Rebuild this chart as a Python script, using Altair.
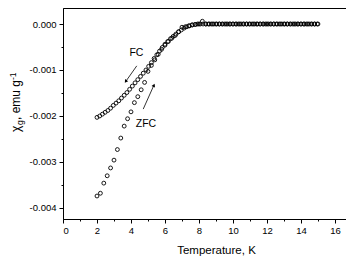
import altair as alt
import pandas as pd

# ---- data (chi in units of 1e-3 emu/g) ----
zfc_T = [2.0, 2.2, 2.4, 2.6, 2.8, 3.0, 3.2, 3.4, 3.6, 3.8,
         4.0, 4.2, 4.4, 4.6, 4.8, 5.0, 5.2, 5.4, 5.6, 5.8,
         6.0, 6.2, 6.4, 6.6, 6.8, 7.0, 7.2, 7.4, 7.6, 7.8,
         8.0, 8.2, 8.4, 8.6, 8.8, 9.0, 9.2, 9.4, 9.6, 9.8,
         10.0, 10.2, 10.4, 10.6, 10.8, 11.0, 11.2, 11.4, 11.6, 11.8,
         12.0, 12.2, 12.4, 12.6, 12.8, 13.0, 13.2, 13.4, 13.6, 13.8,
         14.0, 14.2, 14.4, 14.6, 14.8, 15.0]
zfc_chi = [-3.74, -3.68, -3.46, -3.30, -3.13, -2.96, -2.73, -2.48, -2.22, -2.06,
           -1.91, -1.71, -1.58, -1.43, -1.27, -1.03, -0.90, -0.78, -0.66, -0.55,
           -0.46, -0.38, -0.31, -0.25, -0.17, -0.07, -0.06, -0.04, -0.02, -0.01,
           0.00, 0.06, 0.00, 0.00, 0.00, 0.00, 0.00, 0.00, 0.00, 0.00,
           0.00, 0.00, 0.00, 0.00, 0.00, 0.00, 0.00, 0.00, 0.00, 0.00,
           0.00, 0.00, 0.00, 0.00, 0.00, 0.00, 0.00, 0.00, 0.00, 0.00,
           0.00, 0.00, 0.00, 0.00, 0.00, 0.00]

fc_T = [2.00, 2.16, 2.32, 2.48, 2.64, 2.80, 2.96, 3.12, 3.28, 3.44,
        3.60, 3.76, 3.92, 4.08, 4.24, 4.40, 4.56, 4.72, 4.88, 5.04,
        5.20, 5.36, 5.52, 5.68, 5.84, 6.00, 6.16, 6.32, 6.48, 6.64,
        6.80, 6.96, 7.12, 7.28, 7.44, 7.60, 7.76, 7.92, 8.08, 8.24,
        8.40, 8.56, 8.72, 8.88, 9.04, 9.20, 9.36, 9.52, 9.68, 9.84,
        10.00, 10.16, 10.32, 10.48, 10.64, 10.80, 10.96, 11.12, 11.28, 11.44,
        11.60, 11.76, 11.92, 12.08, 12.24, 12.40, 12.56, 12.72, 12.88, 13.04,
        13.20, 13.36, 13.52, 13.68, 13.84, 14.00, 14.16, 14.32, 14.48, 14.64,
        14.80, 14.96]
fc_chi = [-2.03, -2.00, -1.96, -1.92, -1.88, -1.83, -1.77, -1.72, -1.67, -1.61,
          -1.55, -1.49, -1.42, -1.35, -1.28, -1.21, -1.14, -1.07, -1.00, -0.92,
          -0.84, -0.75, -0.67, -0.59, -0.51, -0.44, -0.38, -0.32, -0.27, -0.22,
          -0.17, -0.13, -0.09, -0.06, -0.04, -0.02, -0.01, 0.00, 0.00, 0.00,
          0.00, 0.00, 0.00, 0.00, 0.00, 0.00, 0.00, 0.00, 0.00, 0.00,
          0.00, 0.00, 0.00, 0.00, 0.00, 0.00, 0.00, 0.00, 0.00, 0.00,
          0.00, 0.00, 0.00, 0.00, 0.00, 0.00, 0.00, 0.00, 0.00, 0.00,
          0.00, 0.00, 0.00, 0.00, 0.00, 0.00, 0.00, 0.00, 0.00, 0.00,
          0.00, 0.00]

# annotations (data coordinates)
label_text = ["FC", "ZFC"]
label_T = [4.32, 4.88]
label_chi = [-0.62, -2.17]

arrow_tail_T = [4.34, 4.72]
arrow_tail_chi = [-0.91, -1.85]
arrow_head_T = [3.69, 5.35]
arrow_head_chi = [-1.25, -1.33]

x_ticks = list(range(0, 17))
y_ticks = [0.0, -0.0005, -0.001, -0.0015, -0.002, -0.0025, -0.003, -0.0035, -0.004]

# ---- tables ----
df_zfc = pd.DataFrame({"T": zfc_T, "v": [c * 1e-3 for c in zfc_chi]})
df_fc = pd.DataFrame({"T": fc_T, "v": [c * 1e-3 for c in fc_chi]})
df_lab = pd.DataFrame({"T": label_T, "v": [c * 1e-3 for c in label_chi], "label": label_text})
df_arr = pd.DataFrame({"T": arrow_tail_T, "v": [c * 1e-3 for c in arrow_tail_chi],
                       "T2": arrow_head_T, "v2": [c * 1e-3 for c in arrow_head_chi]})
df_head_fc = pd.DataFrame({"T": [arrow_head_T[0]], "v": [arrow_head_chi[0] * 1e-3]})
df_head_zfc = pd.DataFrame({"T": [arrow_head_T[1]], "v": [arrow_head_chi[1] * 1e-3]})

FONT = "Liberation Sans"

x_axis = alt.Axis(
    values=x_ticks,
    labelExpr="datum.value % 2 == 1 ? '' : format(datum.value, 'd')",
    tickSize={"condition": {"test": "datum.value % 2 == 1", "value": 2}, "value": 4},
    labelPadding=2,
    labelFontSize=9.5,
    title="Temperature, K",
    titleFontSize=11.5,
    titleFontWeight="normal",
    titleX=153,
    titleY=34,
    titleBaseline="alphabetic",
    grid=False,
)
y_axis = alt.Axis(
    values=y_ticks,
    labelExpr="abs(round(datum.value * 2000)) % 2 == 1 ? '' : replace(format(datum.value, '.3f'), '\u2212', '-')",
    tickSize={"condition": {"test": "abs(round(datum.value * 2000)) % 2 == 1", "value": 2}, "value": 4},
    labelPadding=3,
    labelFontSize=9.5,
    title=None,
    grid=False,
)

X = alt.X("T:Q", scale=alt.Scale(domain=[0, 16.65], nice=False, zero=False), axis=x_axis)
Y = alt.Y("v:Q", scale=alt.Scale(domain=[-0.00424, 0.000348], nice=False, zero=False), axis=y_axis)

pts_style = dict(shape="circle", filled=False, color="black", size=15, strokeWidth=0.9, opacity=1)

zfc = alt.Chart(df_zfc).mark_point(**pts_style).encode(x=X, y=Y)
fc = alt.Chart(df_fc).mark_point(**pts_style).encode(x=X, y=Y)

arrows = alt.Chart(df_arr).mark_rule(color="black", strokeWidth=0.8).encode(
    x=X, y=Y, x2="T2:Q", y2="v2:Q")
head_fc = alt.Chart(df_head_fc).mark_point(shape="triangle-up", filled=True, color="black",
                                           size=14, angle=214, opacity=1).encode(x=X, y=Y)
head_zfc = alt.Chart(df_head_zfc).mark_point(shape="triangle-up", filled=True, color="black",
                                             size=14, angle=24, opacity=1).encode(x=X, y=Y)
labels = alt.Chart(df_lab).mark_text(font=FONT, fontSize=10.5, color="black").encode(
    x=X, y=Y, text="label:N")

# y-axis title built from pieces (subscript g, superscript -1)
one = pd.DataFrame({"k": [0]})
tx = -43
t1 = alt.Chart(one).mark_text(text="\u03c7", font=FONT, fontSize=12, angle=270, align="left",
                              baseline="alphabetic", color="black").encode(
    x=alt.value(tx), y=alt.value(124))
t2 = alt.Chart(one).mark_text(text="g", font=FONT, fontSize=8.5, angle=270, align="left",
                              baseline="alphabetic", color="black").encode(
    x=alt.value(tx + 2.5), y=alt.value(117))
t3 = alt.Chart(one).mark_text(text=", emu g", font=FONT, fontSize=12, angle=270, align="left",
                              baseline="alphabetic", color="black").encode(
    x=alt.value(tx), y=alt.value(112))
t4 = alt.Chart(one).mark_text(text="-1", font=FONT, fontSize=8.5, angle=270, align="left",
                              baseline="alphabetic", color="black").encode(
    x=alt.value(tx - 4.5), y=alt.value(72))

chart = alt.layer(fc, zfc, arrows, head_fc, head_zfc, labels, t1, t2, t3, t4).properties(
    width=283, height=211,
    autosize=alt.AutoSizeParams(type="none"),
    padding={"left": 55, "top": 0, "right": 0, "bottom": 37},
).configure_view(
    stroke="black", strokeWidth=1
).configure_axis(
    domainColor="black", tickColor="black", labelColor="black", titleColor="black",
    labelFont=FONT, titleFont=FONT, domainWidth=1, tickWidth=1
)

chart.save("out.html", embed_options={"renderer": "svg", "actions": False})
